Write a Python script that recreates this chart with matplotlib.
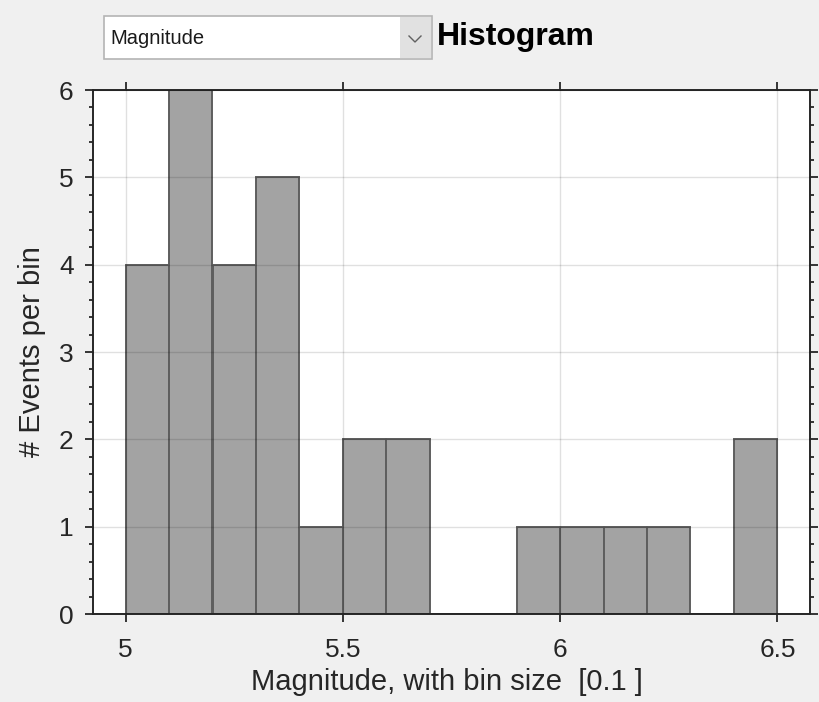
import matplotlib.pyplot as plt
import numpy as np
from matplotlib.patches import Rectangle
from matplotlib.lines import Line2D
from matplotlib.ticker import MultipleLocator

# histogram of event magnitudes, bin size 0.1
bin_edges = [5.0, 5.1, 5.2, 5.3, 5.4, 5.5, 5.6, 5.7, 5.8, 5.9, 6.0, 6.1, 6.2, 6.3, 6.4, 6.5]
counts = [4, 6, 4, 5, 1, 2, 2, 0, 0, 1, 1, 1, 1, 0, 2]
xticks = [5, 5.5, 6, 6.5]
xtick_labels = ['5', '5.5', '6', '6.5']
yticks = [0, 1, 2, 3, 4, 5, 6]

W, H = 820, 702
plt.rcParams['font.family'] = ['Liberation Sans', 'DejaVu Sans']

fig = plt.figure(figsize=(W / 100, H / 100), dpi=100, facecolor='#f0f0f0')


def fx(x):
    return x / W


def fy(y):
    return 1 - y / H


ax = fig.add_axes([fx(93), fy(614), (810 - 93) / W, (614 - 90) / H])

lefts = np.array(bin_edges[:-1])
ax.bar(lefts, counts, width=0.1, align='edge', color='#a3a3a3',
       edgecolor='#5e5e5e', linewidth=1.4, zorder=1)

ax.set_xlim(4.925, 6.575)
ax.set_ylim(0, 6)
ax.set_xticks(xticks)
ax.set_xticklabels(xtick_labels)
ax.set_yticks(yticks)
ax.yaxis.set_minor_locator(MultipleLocator(0.2))

ax.set_axisbelow(False)
ax.grid(True, which='major', color='black', alpha=0.12, linewidth=1.0)

for s in ax.spines.values():
    s.set_color('#262626')
    s.set_linewidth(1.4)

ax.tick_params(which='both', direction='out', top=True, right=True,
               labeltop=False, labelright=False, colors='#262626',
               labelsize=19, width=1.3)
ax.tick_params(which='major', length=5.5)
ax.tick_params(axis='x', which='major', pad=12)
ax.tick_params(axis='y', which='major', pad=8.5)
ax.tick_params(which='minor', length=2.8)

ax.set_xlabel('Magnitude, with bin size  [0.1 ]', fontsize=21, color='#262626')
ax.set_ylabel('# Events per bin', fontsize=21, color='#262626')
ax.xaxis.set_label_coords(0.494, -0.104)
ax.yaxis.set_label_coords(-0.066, 0.5)

# dropdown selector and heading above the axes
fig.patches.append(Rectangle((fx(104), fy(59)), (432 - 104) / W, (59 - 16) / H,
                             transform=fig.transFigure, facecolor='white',
                             edgecolor='#b4b4b4', linewidth=1.2))
fig.patches.append(Rectangle((fx(400), fy(58)), (431 - 400) / W, (58 - 17) / H,
                             transform=fig.transFigure, facecolor='#e1e1e1',
                             edgecolor='none'))
fig.lines.append(Line2D([fx(409), fx(415), fx(421)], [fy(36), fy(42), fy(36)],
                        transform=fig.transFigure, color='#606060', linewidth=1.0))
fig.text(fx(110), fy(39), 'Magnitude', fontsize=14.5, color='#1a1a1a',
         ha='left', va='center')
fig.text(fx(437), fy(37), 'Histogram', fontsize=23, fontweight='bold',
         color='black', ha='left', va='center')

fig.savefig('out.png', dpi=100, facecolor=fig.get_facecolor())
